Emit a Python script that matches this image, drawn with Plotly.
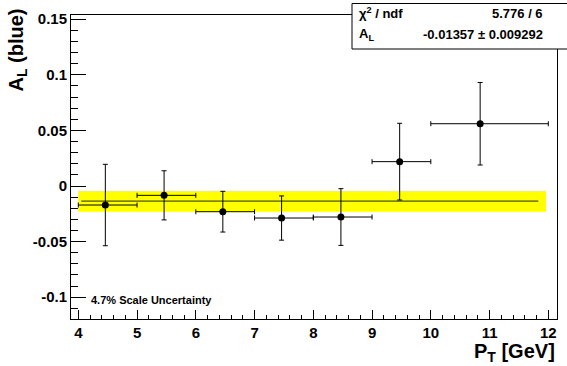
import plotly.graph_objects as go

# ---- data ----
bin_low = [4, 5, 6, 7, 8, 9, 10]
bin_high = [5, 6, 7, 8, 9, 10, 12]
pt_mean = [4.46, 5.46, 6.46, 7.46, 8.47, 9.47, 10.84]
a_l = [-0.0171, -0.0084, -0.0231, -0.0288, -0.0279, 0.0219, 0.0560]
a_l_err = [0.0366, 0.0221, 0.0183, 0.0199, 0.0255, 0.0345, 0.0371]

chi2 = 5.776
ndf = 6
fit_value = -0.01357
fit_error = 0.009292
fit_band_range = [4.0, 11.96]
fit_line_range = [4.05, 11.83]

x_tick_vals = [4, 5, 6, 7, 8, 9, 10, 11, 12]
x_tick_text = ["4", "5", "6", "7", "8", "9", "10", "11", "12"]
y_tick_vals = [-0.1, -0.05, 0, 0.05, 0.1, 0.15]
y_tick_text = ["-0.1", "-0.05", "0", "0.05", "0.1", "0.15"]

x_title = "P<sub>T</sub> [GeV]"
y_title = "A<sub>L</sub> (blue)"
note_text = "4.7% Scale Uncertainty"

# ---- layout geometry (pixels) ----
W, H = 567, 366
L, R, T, B = 71, 10, 15, 47
PW, PH = W - L - R, H - T - B
FONT = "Liberation Sans"


def px_x(p):
    return (p - L) / PW


def px_y(p):
    return (H - B - p) / PH


fig = go.Figure()

# fit confidence band
band_x = [fit_band_range[0], fit_band_range[1], fit_band_range[1], fit_band_range[0]]
band_y = [fit_value - fit_error, fit_value - fit_error, fit_value + fit_error, fit_value + fit_error]
fig.add_trace(go.Scatter(x=band_x, y=band_y, fill="toself", fillcolor="#ffff00",
                         mode="lines", line=dict(width=0), hoverinfo="skip", showlegend=False))

# fit line
fig.add_trace(go.Scatter(x=fit_line_range, y=[fit_value, fit_value], mode="lines",
                         line=dict(color="#222222", width=1), showlegend=False))

# data points
err_plus = [h - m for h, m in zip(bin_high, pt_mean)]
err_minus = [m - l for m, l in zip(pt_mean, bin_low)]
fig.add_trace(go.Scatter(
    x=pt_mean, y=a_l, mode="markers",
    marker=dict(color="black", size=7),
    error_x=dict(type="data", symmetric=False, array=err_plus, arrayminus=err_minus,
                 color="black", thickness=1, width=2.5),
    error_y=dict(type="data", array=a_l_err, color="black", thickness=1, width=2.5),
    showlegend=False))

tickfont = dict(family=FONT, size=15, color="black", weight="bold")

fig.update_xaxes(range=[3.8757, 12.148], showgrid=False, zeroline=False,
                 showline=True, linecolor="black", linewidth=1, mirror=True,
                 ticks="inside", ticklen=9, tickcolor="black",
                 tickmode="array", tickvals=x_tick_vals, ticktext=x_tick_text,
                 tickfont=tickfont,
                 minor=dict(ticks="inside", ticklen=4.5, tickcolor="black",
                            tickmode="linear", tick0=4, dtick=0.2, showgrid=False))
fig.update_yaxes(range=[-0.1196, 0.15378], showgrid=False, zeroline=False,
                 showline=True, linecolor="black", linewidth=1, mirror=True,
                 ticks="inside", ticklen=14.5, tickcolor="black",
                 tickmode="array", tickvals=y_tick_vals, ticktext=y_tick_text,
                 tickfont=tickfont,
                 minor=dict(ticks="inside", ticklen=7.3, tickcolor="black",
                            tickmode="linear", tick0=0, dtick=0.01, showgrid=False))

title_font = dict(family=FONT, size=20, color="black", weight="bold")
stat_font = dict(family=FONT, size=13, color="black", weight="bold")

annotations = [
    dict(text=x_title, x=px_x(557), y=px_y(352), xanchor="right", yanchor="middle",
         font=title_font),
    dict(text=y_title, x=px_x(17), y=px_y(7), xanchor="center", yanchor="top",
         textangle=-90, font=title_font),
    dict(text=note_text, x=px_x(89), y=px_y(300), xanchor="left", yanchor="middle",
         font=dict(family=FONT, size=11, color="black", weight="bold")),
    dict(text="\u03c7<sup>2</sup> / ndf", x=px_x(357), y=px_y(13), xanchor="left",
         yanchor="middle", font=stat_font),
    dict(text=f"{chi2:.3f} / {ndf}", x=px_x(545), y=px_y(13), xanchor="right",
         yanchor="middle", font=stat_font),
    dict(text="A<sub>L</sub>", x=px_x(357), y=px_y(35), xanchor="left",
         yanchor="middle", font=stat_font),
    dict(text=f"{fit_value:.5f} \u00b1 {fit_error:.6f}", x=px_x(545), y=px_y(35),
         xanchor="right", yanchor="middle", font=stat_font),
]
for a in annotations:
    a.update(xref="paper", yref="paper", showarrow=False)

shapes = [
    dict(type="rect", xref="paper", yref="paper", x0=px_x(352), x1=px_x(567.5),
         y0=px_y(49), y1=px_y(3.5), line=dict(color="black", width=1),
         fillcolor="white", layer="above"),
]

fig.update_layout(width=W, height=H, margin=dict(l=L, r=R, t=T, b=B),
                  paper_bgcolor="white", plot_bgcolor="white",
                  annotations=annotations, shapes=shapes, showlegend=False)

fig.write_html("out.html", config={"displayModeBar": False},
               post_script="document.body.style.margin='0';document.body.style.padding='0';"
                           "document.body.style.overflow='hidden';")
